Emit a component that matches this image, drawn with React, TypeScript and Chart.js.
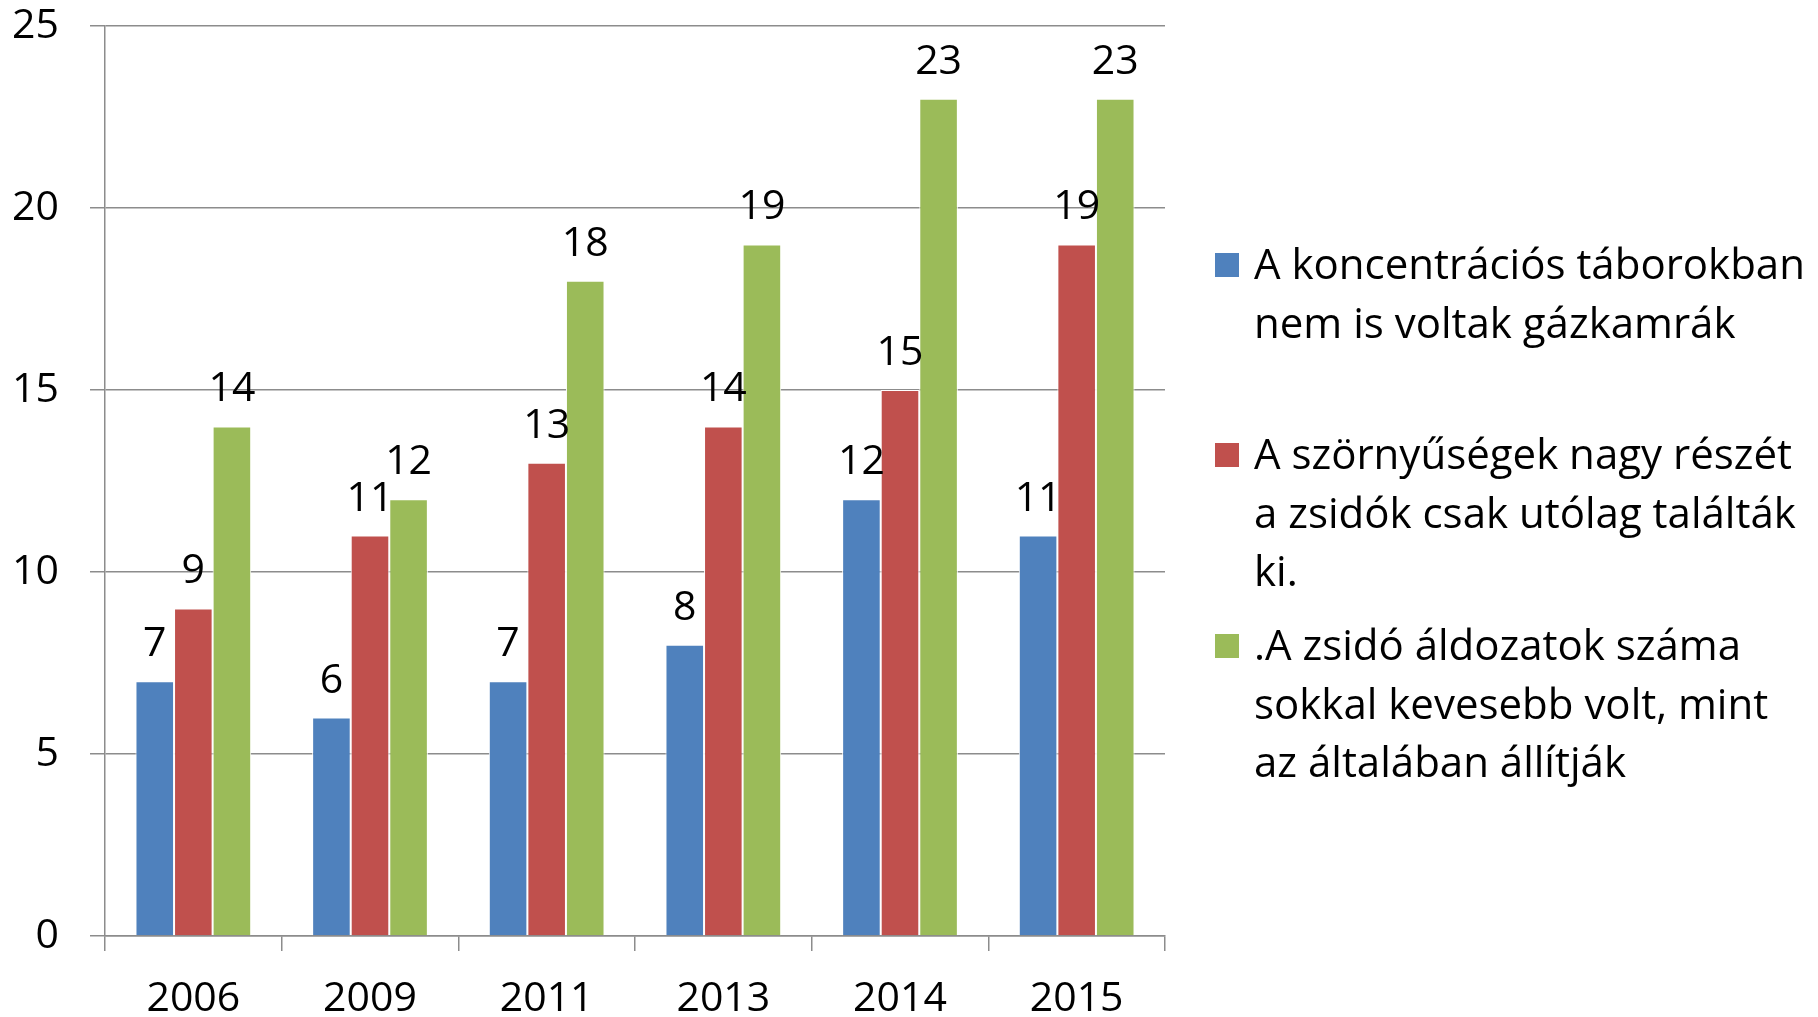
import React, { useEffect, useRef } from 'react';
import { Chart, registerables } from 'chart.js';

Chart.register(...registerables);

const categories = ['2006', '2009', '2011', '2013', '2014', '2015'];
const seriesNames = [
  'A koncentrációs táborokban nem is voltak gázkamrák',
  'A szörnyűségek nagy részét a zsidók csak utólag találták ki.',
  '.A zsidó áldozatok száma sokkal kevesebb volt, mint az általában állítják',
];
const legendLines = [
  ['A koncentrációs táborokban', 'nem is voltak gázkamrák'],
  ['A szörnyűségek nagy részét', 'a zsidók csak utólag találták', 'ki.'],
  ['.A zsidó áldozatok száma', 'sokkal kevesebb volt, mint', 'az általában állítják'],
];
const blueValues = [7, 6, 7, 8, 12, 11];
const redValues = [9, 11, 13, 14, 15, 19];
const greenValues = [14, 12, 18, 19, 23, 23];
const seriesColors = ['#4F81BD', '#C0504D', '#9BBB59'];
const yMin = 0;
const yMax = 25;
const yStep = 5;

const FONT = '"Open Sans", "Noto Sans", sans-serif';
const W = 1818;
const H = 1017;

// legend layout (pixels)
const legendSquareX = 1215;
const legendSquareSize = 24;
const legendTextX = 1254;
const legendFirstBaselines = [279, 469, 660];
const legendLineHeight = 58.7;

const dataLabelPlugin = {
  id: 'dataLabels',
  afterDatasetsDraw(chart: any) {
    const ctx = chart.ctx;
    ctx.save();
    ctx.font = `41px ${FONT}`;
    ctx.fillStyle = '#000';
    ctx.textAlign = 'center';
    ctx.textBaseline = 'alphabetic';
    chart.data.datasets.forEach((ds: any, i: number) => {
      const meta = chart.getDatasetMeta(i);
      meta.data.forEach((bar: any, j: number) => {
        ctx.fillText(String(ds.data[j]), bar.x, bar.y - 25);
      });
    });
    ctx.restore();
  },
};

const customLegendPlugin = {
  id: 'customLegend',
  afterDraw(chart: any) {
    const ctx = chart.ctx;
    ctx.save();
    ctx.font = `42px ${FONT}`;
    ctx.textAlign = 'left';
    ctx.textBaseline = 'alphabetic';
    chart.data.datasets.forEach((ds: any, i: number) => {
      const base = legendFirstBaselines[i];
      ctx.fillStyle = ds.backgroundColor;
      ctx.fillRect(legendSquareX, base - legendSquareSize - 2, legendSquareSize, legendSquareSize);
      ctx.fillStyle = '#000';
      legendLines[i].forEach((line, k) => {
        ctx.fillText(line, legendTextX, base + k * legendLineHeight);
      });
    });
    ctx.restore();
  },
};

export default function App() {
  const ref = useRef<HTMLCanvasElement | null>(null);
  useEffect(() => {
    document.body.style.margin = '0';
    document.body.style.overflow = 'hidden';
    const canvas = ref.current!;
    const values = [blueValues, redValues, greenValues];
    const chart = new Chart(canvas, {
      type: 'bar',
      data: {
        labels: categories,
        datasets: values.map((v, i) => ({
          label: seriesNames[i],
          data: v,
          backgroundColor: seriesColors[i],
          borderColor: '#ffffff',
          borderWidth: 1,
          categoryPercentage: 0.655,
          barPercentage: 1,
        })),
      },
      options: {
        animation: false,
        responsive: false,
        maintainAspectRatio: false,
        layout: { padding: { left: 0, right: W - 1165, top: 26, bottom: 0 } },
        plugins: {
          legend: { display: false },
          tooltip: { enabled: false },
        },
        scales: {
          x: {
            grid: {
              display: true,
              drawOnChartArea: false,
              drawTicks: true,
              tickLength: 15,
              color: '#8c8c8c',
              lineWidth: 1.5,
              offset: true,
            },
            border: { display: true, color: '#8c8c8c', width: 1.5 },
            ticks: {
              font: { family: FONT, size: 41 },
              color: '#000',
              padding: 24,
              maxRotation: 0,
            },
            afterFit: (s: any) => {
              s.height = H - 936;
            },
          },
          y: {
            min: yMin,
            max: yMax,
            grid: {
              color: '#8c8c8c',
              lineWidth: 1.5,
              drawTicks: true,
              tickLength: 15,
            },
            border: { display: true, color: '#8c8c8c', width: 1.5 },
            ticks: {
              stepSize: yStep,
              font: { family: FONT, size: 41 },
              color: '#000',
              padding: 31,
            },
            afterFit: (s: any) => {
              s.width = 105;
              s.paddingTop = 0;
              s.paddingBottom = 0;
            },
          },
        },
      },
      plugins: [dataLabelPlugin, customLegendPlugin],
    });
    return () => chart.destroy();
  }, []);
  return (
    <div style={{ width: W, height: H }}>
      <canvas ref={ref} width={W} height={H} style={{ display: 'block', width: W, height: H }} />
    </div>
  );
}
